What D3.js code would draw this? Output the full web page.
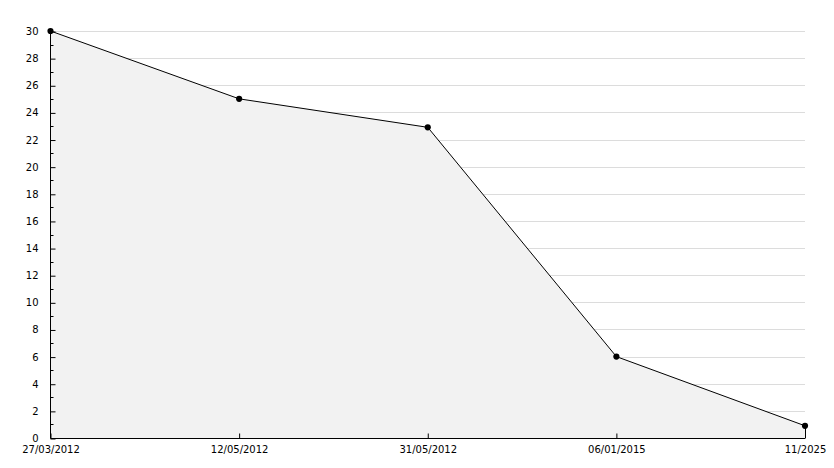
<script src="https://d3js.org/d3.v7.min.js"></script>

<style type="text/css">
  body { margin: 0; background: #fff; }
  svg { width: 834px; height: 468px; display: block; }
  text { font-family: "DejaVu Sans", Verdana, sans-serif; font-size: 10px; fill: #000; }
</style>

<body></body>

<script>
  // data
  var dates = ["27/03/2012", "12/05/2012", "31/05/2012", "06/01/2015", "11/2025"];
  var values = [30, 25, 22.9, 6, 0.9];
  var yTicks = d3.range(0, 31, 2);
  var yMinor = d3.range(1, 30, 2);

  var width = 834;
  var height = 468;
  var margin = {top: 31, bottom: 30, left: 50.5, right: 29};
  var svg = d3.select('body').append('svg')
    .attr('width', width).attr('height', height);

  var xScale = d3.scalePoint()
    .domain(dates)
    .range([margin.left, width - margin.right]);
  var yScale = d3.scaleLinear()
    .domain([0, 30])
    .range([height - margin.bottom, margin.top]);

  var pts = dates.map((d, i) => ({date: d, value: values[i]}));

  // grid lines
  svg.append('g')
    .selectAll('line')
    .data(yTicks.filter(v => v > 0))
    .enter().append('line')
    .attr('x1', margin.left)
    .attr('x2', width - margin.right)
    .attr('y1', d => Math.round(yScale(d)) + 0.5)
    .attr('y2', d => Math.round(yScale(d)) + 0.5)
    .attr('stroke', '#dcdcdc');

  // area
  var area = d3.area()
    .x(d => xScale(d.date))
    .y0(yScale(0))
    .y1(d => yScale(d.value));
  svg.append('path')
    .datum(pts)
    .attr('d', area)
    .attr('fill', '#f2f2f2');

  // right edge of area
  var last = pts[pts.length - 1];
  svg.append('line')
    .attr('x1', Math.round(xScale(last.date)) + 0.5)
    .attr('x2', Math.round(xScale(last.date)) + 0.5)
    .attr('y1', yScale(last.value))
    .attr('y2', yScale(0))
    .attr('stroke', '#000');

  // line
  svg.append('path')
    .datum(pts)
    .attr('d', d3.line().x(d => xScale(d.date)).y(d => yScale(d.value)))
    .attr('fill', 'none')
    .attr('stroke', '#000')
    .attr('stroke-width', 1);

  // y axis
  var eixoY = d3.axisLeft(yScale)
    .tickValues(yTicks)
    .tickSize(-5)
    .tickPadding(12)
    .tickFormat(d3.format('d'));
  var gy = svg.append('g')
    .attr('transform', 'translate(' + margin.left + ',0)')
    .call(eixoY);
  gy.select('.domain').attr('d', 'M0,' + (margin.top - 1) + 'V' + (yScale(0) + 0.5));
  gy.selectAll('text').attr('dy', '0.35em').attr('font-family', null).attr('font-size', null);
  gy.selectAll('.tick line').attr('transform', 'translate(0,0.5)');
  gy.selectAll('.minor')
    .data(yMinor)
    .enter().append('line')
    .attr('class', 'minor')
    .attr('x1', 0).attr('x2', 3)
    .attr('y1', d => Math.round(yScale(d)) + 0.5)
    .attr('y2', d => Math.round(yScale(d)) + 0.5)
    .attr('stroke', '#000');

  // x axis
  var eixoX = d3.axisBottom(xScale)
    .tickSize(-5)
    .tickPadding(7);
  var gx = svg.append('g')
    .attr('transform', 'translate(0,' + (Math.round(yScale(0)) + 0.5) + ')')
    .call(eixoX);
  gx.select('.domain').attr('d', 'M' + margin.left + ',0H' + (width - margin.right));
  gx.selectAll('text').attr('font-family', null).attr('font-size', null);

  // markers
  svg.append('g')
    .selectAll('path')
    .data(pts)
    .enter().append('path')
    .attr('transform', d => 'translate(' + xScale(d.date) + ',' + yScale(d.value) + ')')
    .attr('d', d3.symbol().type(d3.symbolCircle).size(30))
    .attr('fill', '#000');
</script>
